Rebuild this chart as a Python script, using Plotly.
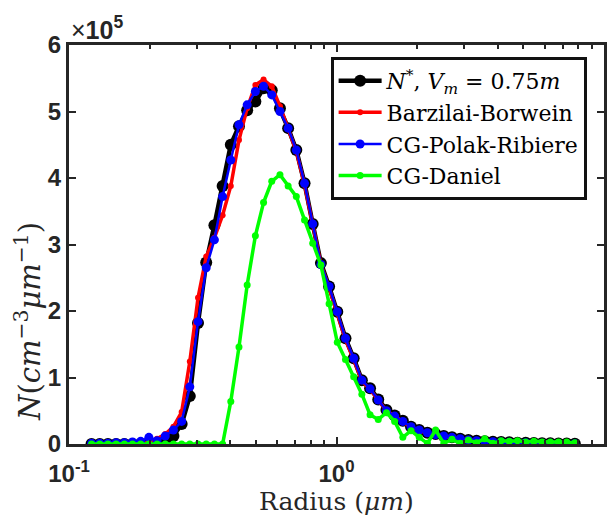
import plotly.graph_objects as go

# Radius grid (micrometres), log-spaced
radius = [0.1214, 0.1303, 0.1398, 0.1500, 0.1610, 0.1727, 0.1853, 0.1989, 0.2134, 0.2290,
          0.2457, 0.2637, 0.2829, 0.3036, 0.3258, 0.3496, 0.3752, 0.4026, 0.4320, 0.4635,
          0.4974, 0.5337, 0.5727, 0.6146, 0.6595, 0.7077, 0.7594, 0.8148, 0.8744, 0.9382,
          1.0068, 1.0803, 1.1593, 1.2440, 1.3349, 1.4324, 1.5370, 1.6493, 1.7698, 1.8991,
          2.0379, 2.1868, 2.3465, 2.5180, 2.7019, 2.8993, 3.1111, 3.3384, 3.5823, 3.8441,
          4.1249, 4.4263, 4.7497, 5.0967, 5.4690, 5.8686, 6.2974, 6.7575, 7.2512, 7.7809]

# Values in units of 1e5
n_star = [0, 0, 0, 0, 0, 0, 0, 0, 0.01, 0.03,
          0.12, 0.30, 0.72, 1.82, 2.73, 3.29, 3.88, 4.50, 4.78, 5.02,
          5.15, 5.35, 5.32, 5.05, 4.75, 4.42, 3.92, 3.31, 2.72, 2.37,
          1.99, 1.59, 1.29, 0.96, 0.84, 0.67, 0.51, 0.43, 0.35, 0.26,
          0.21, 0.17, 0.15, 0.12, 0.10, 0.08, 0.06, 0.05, 0.04, 0.035,
          0.03, 0.025, 0.02, 0.018, 0.015, 0.012, 0.01, 0.008, 0.006, 0.005]
barzilai = [0, 0, 0, 0, 0, 0, 0.01, 0.03, 0.08, 0.15,
            0.26, 0.48, 1.24, 2.20, 2.82, 3.10, 3.44, 3.88, 4.57, 5.05,
            5.40, 5.48, 5.38, 5.08, 4.75, 4.40, 3.90, 3.30, 2.70, 2.35,
            1.97, 1.57, 1.27, 0.95, 0.82, 0.66, 0.50, 0.42, 0.34, 0.25,
            0.20, 0.16, 0.14, 0.11, 0.09, 0.07, 0.06, 0.05, 0.04, 0.03,
            0.03, 0.02, 0.02, 0.015, 0.012, 0.01, 0.008, 0.006, 0.005, 0.004]
polak = [0.01, 0.01, 0.01, 0.02, 0.02, 0.03, 0.04, 0.10, 0.05, 0.12,
         0.21, 0.34, 0.86, 1.84, 2.65, 3.07, 3.72, 4.27, 4.80, 5.10,
         5.30, 5.38, 5.25, 5.00, 4.75, 4.42, 3.92, 3.31, 2.70, 2.37,
         1.99, 1.59, 1.29, 0.96, 0.83, 0.66, 0.50, 0.42, 0.34, 0.26,
         0.21, 0.17, 0.14, 0.12, 0.10, 0.08, 0.06, 0.05, 0.04, 0.035,
         0.03, 0.025, 0.02, 0.018, 0.015, 0.012, 0.01, 0.008, 0.006, 0.005]
daniel = [0, 0, 0, 0, 0, 0, 0, 0, 0, 0,
          0, 0, 0, 0, 0, 0, 0, 0.64, 1.46, 2.39,
          3.13, 3.63, 3.95, 4.05, 3.88, 3.72, 3.37, 3.02, 2.69, 2.11,
          1.53, 1.27, 1.01, 0.75, 0.44, 0.37, 0.47, 0.34, 0.10, 0.20,
          0.10, 0.01, 0.21, 0.01, 0.07, 0.01, 0.06, 0.02, 0.08, 0.01,
          0.05, 0.04, 0.05, 0.03, 0.04, 0.03, 0.03, 0.03, 0.03, 0.02]

scale = 1e5
y_ticks = [0, 1, 2, 3, 4, 5, 6]
x_ticks = [0.1, 1, 10]
x_tick_text = ["10<sup>-1</sup>", "10<sup>0</sup>", "10<sup>1</sup>"]
minor_x = [0.2, 0.3, 0.4, 0.5, 0.6, 0.7, 0.8, 0.9, 2, 3, 4, 5, 6, 7, 8, 9]

serif = "DejaVu Serif"
sans = "Liberation Sans"
axis_col = "#262626"

fig = go.Figure()
fig.add_trace(go.Scatter(
    x=radius, y=[v * scale for v in n_star], mode="lines+markers",
    name="<i>N</i><sup>*</sup>, <i>V</i><sub><i>m</i></sub> = 0.75<i>m</i>",
    line=dict(color="black", width=4.5), marker=dict(color="black", size=12)))
fig.add_trace(go.Scatter(
    x=radius, y=[v * scale for v in barzilai], mode="lines+markers",
    name="Barzilai-Borwein",
    line=dict(color="#ff0000", width=3.5), marker=dict(color="#ff0000", size=6)))
fig.add_trace(go.Scatter(
    x=radius, y=[v * scale for v in polak], mode="lines+markers",
    name="CG-Polak-Ribiere",
    line=dict(color="#0000ff", width=2.5), marker=dict(color="#0000ff", size=9)))
fig.add_trace(go.Scatter(
    x=radius, y=[v * scale for v in daniel], mode="lines+markers",
    name="CG-Daniel",
    line=dict(color="#00ff00", width=3.5), marker=dict(color="#00ff00", size=7)))

# The page body adds an 8px offset, so the figure is sized to fit the window
fig.update_layout(
    width=607, height=513,
    margin=dict(l=61, r=8, t=37, b=77),
    paper_bgcolor="white", plot_bgcolor="white",
    showlegend=True,
    legend=dict(x=0.489, y=0.97, xanchor="left", yanchor="top",
                bgcolor="white", bordercolor="#111111", borderwidth=3,
                font=dict(family=serif, size=22, color="black"),
                tracegroupgap=0, itemwidth=43),
    xaxis=dict(type="log", range=[-1, 1],
               tickvals=x_ticks, ticktext=x_tick_text,
               tickfont=dict(family=sans, size=24, color=axis_col, weight="bold"),
               ticks="inside", ticklen=7, tickwidth=2, tickcolor=axis_col,
               ticklabelstandoff=6,
               minor=dict(tickvals=minor_x, ticks="inside", ticklen=4,
                          tickwidth=2, tickcolor=axis_col),
               showline=True, linewidth=3, linecolor=axis_col, mirror="ticks",
               showgrid=False, zeroline=False),
    yaxis=dict(range=[0, 6e5],
               tickvals=[v * scale for v in y_ticks],
               ticktext=[str(v) for v in y_ticks],
               tickfont=dict(family=sans, size=24, color=axis_col, weight="bold"),
               ticks="inside", ticklen=7, tickwidth=2, tickcolor=axis_col,
               showline=True, linewidth=3, linecolor=axis_col, mirror="ticks",
               showgrid=False, zeroline=False),
    annotations=[
        dict(text="×<b>10<sup>5</sup></b>", xref="paper", yref="paper",
             x=0.0, y=1.0, xanchor="left", yanchor="bottom", showarrow=False,
             yshift=-1, font=dict(family=sans, size=25, color=axis_col)),
        dict(text="Radius (<i>μm</i>)", xref="paper", yref="paper",
             x=0.5, y=0.0, xanchor="center", yanchor="middle", showarrow=False,
             yshift=-57, font=dict(family=serif, size=25, color=axis_col)),
        dict(text="<i>N</i>(<i>cm</i><sup>−3</sup><i>μm</i><sup>−1</sup>)",
             xref="paper", yref="paper", textangle=-90,
             x=0.0, y=0.306, xanchor="center", yanchor="middle", showarrow=False,
             xshift=-41, font=dict(family=serif, size=29, color=axis_col)),
    ],
)

fig.write_html("out.html")
